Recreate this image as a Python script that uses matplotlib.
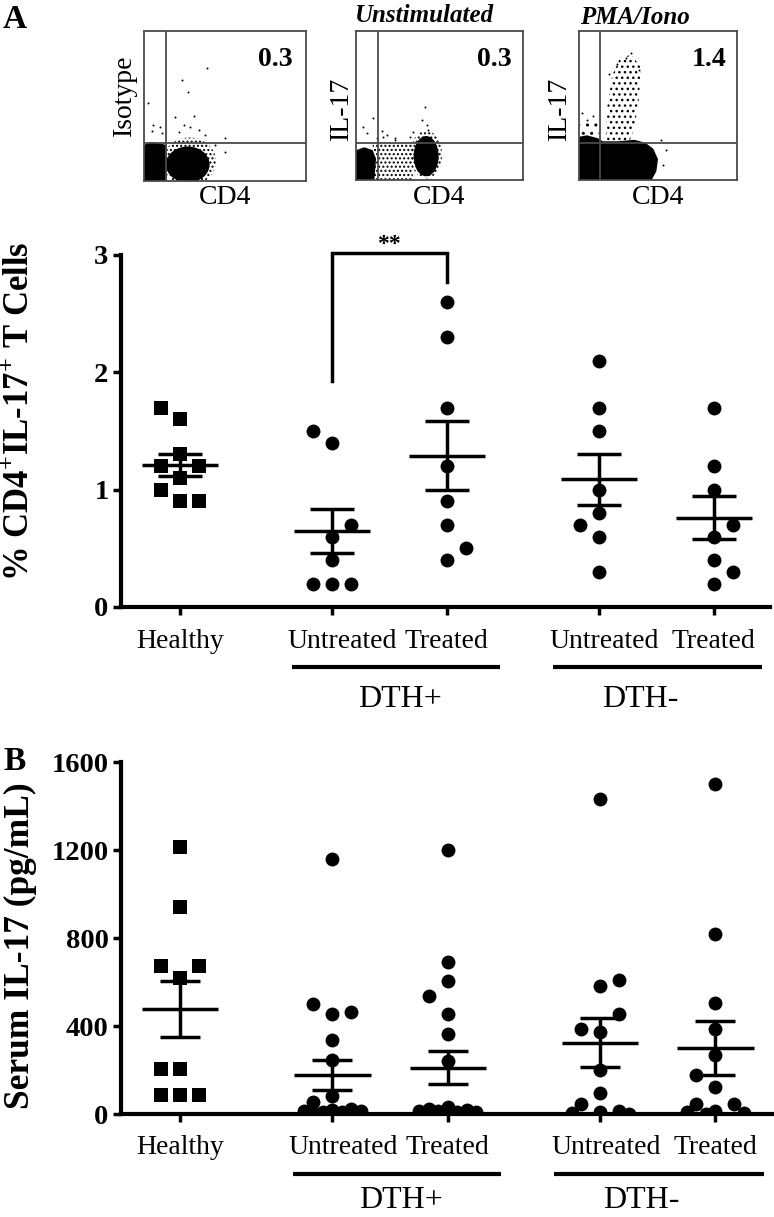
import matplotlib
matplotlib.use("Agg")
import matplotlib.pyplot as plt
import numpy as np
from matplotlib.patches import Ellipse, Polygon
import matplotlib.transforms as mtransforms

# ---------------- data ----------------
group_labels = ["Healthy", "Untreated", "Treated", "Untreated", "Treated"]
super_labels = ["DTH+", "DTH-"]

# Panel A: % CD4+IL-17+ T cells
pctA_healthy = [1.6, 1.7, 1.3, 1.1, 0.9, 1.2, 1.2, 1.0, 0.9]
pctA_dthp_untr = [1.4, 1.5, 0.6, 0.4, 0.7, 0.2, 0.2, 0.2]
pctA_dthp_trt = [2.6, 2.3, 1.7, 1.2, 0.9, 0.7, 0.4, 0.5]
pctA_dthm_untr = [2.1, 1.7, 1.5, 1.0, 0.8, 0.6, 0.7, 0.3]
pctA_dthm_trt = [1.7, 1.2, 1.0, 0.6, 0.7, 0.4, 0.2, 0.3]

# Panel B: serum IL-17 (pg/mL)
serB_healthy = [1215, 940, 620, 675, 675, 205, 205, 85, 85, 85]
serB_dthp_untr = [1160, 455, 500, 465, 335, 245, 80, 55,
                  25, 20, 15, 15, 10, 10, 5, 5, 0, 0, 0]
serB_dthp_trt = [1200, 690, 605, 535, 455, 365, 240,
                 30, 25, 20, 15, 15, 10, 10, 5, 5, 0, 0, 0, 0]
serB_dthm_untr = [1430, 580, 610, 373, 385, 453, 202, 96, 47, 15, 10, 5, 0]
serB_dthm_trt = [1500, 818, 503, 385, 266, 123, 179, 47, 47, 15, 10, 5, 0]

# flow cytometry annotations
flow_titles = ["", "Unstimulated", "PMA/Iono"]
flow_ylabels = ["Isotype", "IL-17", "IL-17"]
flow_values = ["0.3", "0.3", "1.4"]

# ---------------- style / layout ----------------
W, H = 774, 1217
plt.rcParams["font.family"] = ["Liberation Serif", "DejaVu Serif"]
plt.rcParams["mathtext.fontset"] = "custom"
plt.rcParams["mathtext.rm"] = "Liberation Serif:bold"
plt.rcParams["mathtext.bf"] = "Liberation Serif:bold"
plt.rcParams["hatch.linewidth"] = 1.0

fig = plt.figure(figsize=(W / 100, H / 100), dpi=100)


def px_axes(l, t, r, b):
    return fig.add_axes([l / W, 1 - b / H, (r - l) / W, (b - t) / H])


def ft(x, y, s, **kw):
    return fig.text(x / W, 1 - y / H, s, **kw)


positions = [0.0, 1.32, 2.32, 3.64, 4.64]
label_shift = [0.0, 0.09, 0.0, 0.05, 0.0]


def swarm(ax, values, sides, d_px=18.0, step_px=19.0, max_px=28.5):
    """Place points side by side so that they do not overlap (pixel space)."""
    vals = np.asarray(values, float)
    ypx = ax.transData.transform(np.column_stack([np.zeros_like(vals), vals]))[:, 1]
    xs = ax.transData.transform([(1, 0)])[0, 0] - ax.transData.transform([(0, 0)])[0, 0]
    placed, offs = [], []
    side_iter = iter(sides)
    crowd = [0.0, -max_px / 3, max_px / 3, -2 * max_px / 3, 2 * max_px / 3, -max_px, max_px]
    for y in ypx:
        def free(c):
            return all(np.hypot(c - px, y - py) >= d_px for px, py in placed)
        if free(0.0):
            best = 0.0
        else:
            s = next(side_iter, -1)
            best = None
            for c in (s * step_px, -s * step_px):
                if free(c):
                    best = c
                    break
            if best is None:
                best = max(crowd, key=lambda c: min(np.hypot(c - px, y - py) for px, py in placed))
        placed.append((best, y))
        offs.append(best)
    return np.array(offs) / xs


def draw_panel(ax, groups, markers, sides, ylim, yticks, ms=10, mean_half=0.33, cap_px=22):
    ax.set_xlim(-0.513, 5.13)
    ax.set_ylim(*ylim)
    for s in ["top", "right"]:
        ax.spines[s].set_visible(False)
    for s in ["left", "bottom"]:
        ax.spines[s].set_linewidth(3)
        ax.spines[s].set_zorder(5)
    ax.set_yticks(yticks)
    ax.set_yticklabels([str(t) for t in yticks], fontsize=20.5, fontweight="bold")
    ax.tick_params(axis="y", length=6, width=2.5, pad=3)
    ax.set_xticks(positions)
    ax.set_xticklabels([""] * len(positions))
    ax.tick_params(axis="x", length=6, width=2.5)
    for pos, vals, mk, sd in zip(positions, groups, markers, sides):
        offs = swarm(ax, vals, sd)
        ax.plot(pos + offs, vals, linestyle="none", marker=mk, ms=ms,
                color="black", markeredgewidth=0, zorder=3)
        v = np.asarray(vals, float)
        m = v.mean()
        sem = v.std(ddof=1) / np.sqrt(len(v))
        ax.plot([pos - mean_half, pos + mean_half], [m, m], color="black", lw=2.5, zorder=4,
                solid_capstyle="butt")
        ax.errorbar([pos], [m], yerr=[sem], fmt="none", ecolor="black", elinewidth=2.5,
                    capsize=cap_px / 1.389, capthick=2.5, zorder=4)
    # category labels
    trans = mtransforms.blended_transform_factory(ax.transData, ax.transAxes)
    for pos, sh, lab in zip(positions, label_shift, group_labels):
        ax.annotate(lab, xy=(pos + sh, 0), xycoords=trans, xytext=(0, -34),
                    textcoords="offset pixels", ha="center", va="center", fontsize=20,
                    annotation_clip=False)
    return trans


def group_bars(ax, trans, y_line_px, y_base_px):
    axh = ax.get_window_extent().height
    for (x0, x1), name, xc in zip([(0.974, 2.78), (3.24, 5.06)], super_labels, [1.91, 4.0]):
        ax.plot([x0, x1], [-y_line_px / axh] * 2, color="black", lw=3, transform=trans,
                clip_on=False, solid_capstyle="butt")
        ax.text(xc, -y_base_px / axh, name, transform=trans, ha="center", va="baseline",
                fontsize=23)


# ---------- Panel A main ----------
axA = px_axes(121, 255, 770, 607)
trA = draw_panel(axA, [pctA_healthy, pctA_dthp_untr, pctA_dthp_trt, pctA_dthm_untr, pctA_dthm_trt],
                 ["s", "o", "o", "o", "o"],
                 [[-1] * 9, [-1, 1, -1, -1], [1], [-1], [1, 1]],
                 (0, 3), [0, 1, 2, 3])
group_bars(axA, trA, 60, 100)
# significance bracket
axA.plot([positions[1], positions[1], positions[2], positions[2]], [1.93, 3.02, 3.02, 2.77],
         color="black", lw=2.5, clip_on=False, solid_joinstyle="miter")
axA.text((positions[1] + positions[2]) / 2, 3.0, "**", ha="center", va="bottom",
         fontsize=17, fontweight="bold")
ft(21, 411, r"% CD4$^{+}$IL-17$^{+}$ T Cells", rotation=90, ha="center", va="center",
   fontsize=25, fontweight="bold")

# ---------- Panel B main ----------
axB = px_axes(121, 762, 772, 1114)
trB = draw_panel(axB, [serB_healthy, serB_dthp_untr, serB_dthp_trt, serB_dthm_untr, serB_dthm_trt],
                 ["s", "o", "o", "o", "o"],
                 [[-1] * 6, [-1] * 6, [-1] * 6, [1, -1, 1, -1, 1, -1], [-1, 1, -1, 1, -1]],
                 (0, 1600), [0, 400, 800, 1200, 1600], cap_px=20)
group_bars(axB, trB, 60, 94)
ft(20, 946, "Serum IL-17 (pg/mL)", rotation=90, ha="center", va="center",
   fontsize=25.5, fontweight="bold")

# panel letters
ft(3, 19, "A", fontsize=24, fontweight="bold", va="center", ha="left")
ft(3, 761, "B", fontsize=24, fontweight="bold", va="center", ha="left")

# ---------- flow cytometry mini plots ----------
boxes = [(144, 31, 306, 181), (356, 31, 523, 180), (579, 31, 737, 180)]
gate_x = [13.6, 13.2, 13.3]
gate_y = [25.3, 24.8, 24.8]
gc = "#4a4a4a"

# sparse event dots (x%, y%)
dots1 = [(38.7, 75.1), (23.7, 67.3), (26.9, 59.6), (2.3, 52.2), (5.8, 37.3), (9.9, 36.2),
         (4.9, 33.1), (11.1, 32.0), (19.3, 42.9), (30.6, 43.3), (24.5, 37.1), (28.6, 36.0),
         (33.7, 33.8), (21.6, 32.7), (37.7, 30.7), (50.0, 28.4), (50.0, 19.5), (43.8, 24.0)]
dots2 = [(41.3, 49.2), (39.3, 40.3), (34.3, 32.4), (43.3, 33.6), (42.3, 36.9), (32.3, 28.9),
         (23.4, 28.4), (16.4, 28.9), (4.4, 35.8), (6.4, 31.3), (10.4, 41.4), (18.4, 30.2),
         (23.4, 26.8), (15.4, 32.9), (12.4, 28.4)]
dots3 = [(33.0, 85.0), (30.0, 82.0), (24.0, 78.0), (38.0, 74.0), (19.0, 71.0), (2.0, 45.0),
         (5.0, 40.0), (9.0, 43.0), (52.0, 27.0), (55.0, 20.0), (53.0, 10.0)]

flow_axes = []
for i, (l, t, r, b) in enumerate(boxes):
    ax = px_axes(l, t, r, b)
    ax.set_xlim(0, 100)
    ax.set_ylim(0, 100)
    ax.set_xticks([])
    ax.set_yticks([])
    for s in ax.spines.values():
        s.set_color(gc)
        s.set_linewidth(1.3)
    ax.axvline(gate_x[i], color=gc, lw=1.3, zorder=5)
    ax.axhline(gate_y[i], color=gc, lw=1.3, zorder=5)
    flow_axes.append(ax)

# panel 1 : isotype
a = flow_axes[0]
a.add_patch(Polygon([(0, 0), (0, 24), (4, 26), (10, 25), (14, 24), (14, 0)], closed=True,
                    fc="black", ec="none"))
a.add_patch(Ellipse((28, 13), 33, 32, fc="none", ec="black", lw=0, hatch="...."))
a.add_patch(Ellipse((27, 11), 27, 24, fc="black", ec="none"))
a.scatter(*zip(*dots1), s=2, c="black", lw=0)

# panel 2 : unstimulated
a = flow_axes[1]
a.add_patch(Polygon([(0, 0), (0, 20), (5, 22), (10, 20), (12, 14), (11, 0)], closed=True,
                    fc="black", ec="none"))
a.add_patch(Polygon([(10, 0), (10, 24), (34, 25), (34, 0)], closed=True, fc="none", ec="black",
                    lw=0, hatch="...."))
a.add_patch(Ellipse((42, 17), 19, 32, fc="none", ec="black", lw=0, hatch="...."))
a.add_patch(Ellipse((42, 16), 15, 27, fc="black", ec="none"))
a.scatter(*zip(*dots2), s=2, c="black", lw=0)

# panel 3 : PMA/Iono
a = flow_axes[2]
a.add_patch(Polygon([(0, 0), (0, 29), (5, 30), (12, 28), (15, 26), (25, 26), (35, 27),
                     (42, 25), (47, 21), (50, 14), (49, 6), (46, 0)], closed=True,
                    fc="black", ec="none"))
a.add_patch(Polygon([(17, 26), (18, 50), (21, 70), (26, 82), (33, 84), (39, 76), (38, 55),
                     (35, 35), (32, 26)], closed=True, fc="none", ec="black", lw=0,
                    hatch="..."))
a.add_patch(Polygon([(1, 25), (1, 40), (13, 38), (13, 25)], closed=True, fc="none", ec="black",
                    lw=0, hatch=".."))
a.scatter(*zip(*dots3), s=2, c="black", lw=0)

# flow text
val_xy = [(293, 59), (512, 59), (727, 59)]
for (x, y), s in zip(val_xy, flow_values):
    ft(x, y, s, fontsize=20, fontweight="bold", ha="right", va="center")
ylab_xy = [(124, 95), (341, 108), (559, 108)]
for (x, y), s in zip(ylab_xy, flow_ylabels):
    ft(x, y, s, fontsize=20, rotation=90, ha="center", va="center")
for (l, t, r, b) in boxes:
    ft((l + r) / 2, 197, "CD4", fontsize=20, ha="center", va="center")
ft(355, 15, flow_titles[1], fontsize=18, fontweight="bold", fontstyle="italic", ha="left",
   va="center")
ft(580, 17, flow_titles[2], fontsize=18, fontweight="bold", fontstyle="italic", ha="left",
   va="center")

fig.savefig("out.png", dpi=100)
